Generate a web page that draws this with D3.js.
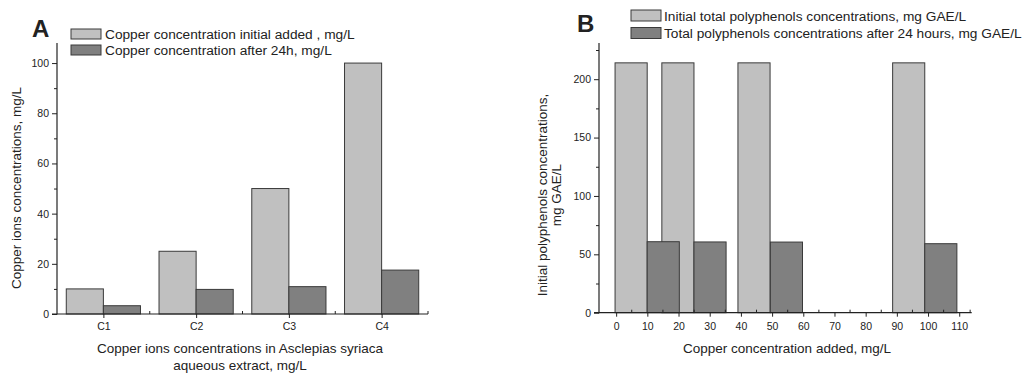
<!DOCTYPE html>
<html>
<head>
<meta charset="utf-8">
<script src="https://cdn.jsdelivr.net/npm/d3@7"></script>
<style>
  html, body { margin: 0; padding: 0; background: #fff; }
  svg { display: block; }
  text { font-family: "Liberation Sans", Arial, sans-serif; fill: #222; }
</style>
</head>
<body>
<svg id="chart" width="1027" height="376"></svg>
<script>
// ---------- Panel A data ----------
const categoriesA = ["C1", "C2", "C3", "C4"];
const initialCu = [10, 25, 50, 100];
const afterCu = [3.3, 9.8, 10.9, 17.5];
const yTicksA = [0, 20, 40, 60, 80, 100];
const yMinorA = [10, 30, 50, 70, 90];
const legendA = ["Copper concentration initial added , mg/L", "Copper concentration after 24h, mg/L"];

// ---------- Panel B data ----------
const initialX = [4.8, 19.8, 44.2, 93.8];
const initialTP = [214, 214, 214, 214];
const afterX = [15.1, 30.1, 54.6, 104.1];
const afterTP = [60.8, 60.6, 60.5, 59.1];
const xTicksB = [0, 10, 20, 30, 40, 50, 60, 70, 80, 90, 100, 110];
const xMinorB = [5, 15, 25, 35, 45, 55, 65, 75, 85, 95, 105, 113.5];
const yTicksB = [0, 50, 100, 150, 200];
const yMinorB = [25, 75, 125, 175, 225];
const legendB = ["Initial total polyphenols concentrations, mg GAE/L", "Total polyphenols concentrations after 24 hours, mg GAE/L"];

const LIGHT = "#c0c0c0", DARK = "#808080", EDGE = "#3a3a3a", AX = "#222";
const svg = d3.select("#chart");
svg.append("rect").attr("width", 1027).attr("height", 376).attr("fill", "#fff");

function styleAxis(g) {
  g.select(".domain").remove();
  g.selectAll("line").attr("stroke", AX).attr("stroke-width", 1);
  g.selectAll("text").attr("font-size", 10.5).attr("fill", AX)
    .attr("font-family", "Liberation Sans, Arial, sans-serif");
}

// ================= Panel A =================
{
  const x = d3.scaleBand().domain(categoriesA).range([57, 428]).paddingInner(0).paddingOuter(0);
  const y = d3.scaleLinear().domain([0, 108]).range([314, 43]);
  const bw = x.bandwidth() * 0.4;
  const g = svg.append("g");

  g.selectAll("rect.init").data(categoriesA).join("rect")
    .attr("x", d => x(d) + x.bandwidth() / 2 - bw)
    .attr("y", (d, i) => y(initialCu[i]))
    .attr("width", bw)
    .attr("height", (d, i) => y(0) - y(initialCu[i]))
    .attr("fill", LIGHT).attr("stroke", EDGE).attr("stroke-width", 1);
  g.selectAll("rect.after").data(categoriesA).join("rect")
    .attr("x", d => x(d) + x.bandwidth() / 2)
    .attr("y", (d, i) => y(afterCu[i]))
    .attr("width", bw)
    .attr("height", (d, i) => y(0) - y(afterCu[i]))
    .attr("fill", DARK).attr("stroke", EDGE).attr("stroke-width", 1);

  // y axis
  const ya = g.append("g").attr("transform", "translate(57,0)")
    .call(d3.axisLeft(y).tickValues(yTicksA).tickSize(5).tickPadding(3));
  styleAxis(ya);
  const ym = g.append("g").attr("transform", "translate(57,0)")
    .call(d3.axisLeft(y).tickValues(yMinorA).tickSize(3).tickFormat(""));
  styleAxis(ym);
  g.append("line").attr("x1", 57).attr("x2", 57).attr("y1", y.range()[1]).attr("y2", y(0) + 0.5)
    .attr("stroke", AX).attr("stroke-width", 1.2);

  // x axis
  const xc = d3.scalePoint().domain(categoriesA).range([x(categoriesA[0]) + x.bandwidth() / 2, x(categoriesA[3]) + x.bandwidth() / 2]);
  const xa = g.append("g").attr("transform", `translate(0,${y(0)})`)
    .call(d3.axisBottom(xc).tickSize(4).tickPadding(5));
  styleAxis(xa);
  const boundaries = categoriesA.map(c => x(c) + x.bandwidth());
  g.selectAll("line.xminor").data(boundaries).join("line")
    .attr("x1", d => d).attr("x2", d => d).attr("y1", y(0)).attr("y2", y(0) - 3)
    .attr("stroke", AX);
  g.append("line").attr("x1", 52).attr("x2", 428).attr("y1", y(0)).attr("y2", y(0))
    .attr("stroke", AX).attr("stroke-width", 1.2);

  // titles
  g.append("text").attr("x", 240).attr("y", 353).attr("text-anchor", "middle").attr("font-size", 13.5)
    .text("Copper ions concentrations in Asclepias syriaca");
  g.append("text").attr("x", 240).attr("y", 370).attr("text-anchor", "middle").attr("font-size", 13.5)
    .text("aqueous extract, mg/L");
  g.append("text").attr("transform", "translate(21,188) rotate(-90)").attr("text-anchor", "middle")
    .attr("font-size", 13.5).text("Copper ions concentrations, mg/L");
  g.append("text").attr("x", 32).attr("y", 37).attr("font-size", 24).attr("font-weight", "bold")
    .attr("fill", "#000").text("A");

  // legend
  const lg = g.append("g");
  [LIGHT, DARK].forEach((c, i) => {
    lg.append("rect").attr("x", 71).attr("y", 29 + i * 16).attr("width", 30).attr("height", 10)
      .attr("fill", c).attr("stroke", EDGE);
    lg.append("text").attr("x", 105).attr("y", 38.5 + i * 16).attr("font-size", 13.7).text(legendA[i]);
  });
}

// ================= Panel B =================
{
  const x = d3.scaleLinear().domain([-5.5, 114]).range([599, 971.7]);
  const y = d3.scaleLinear().domain([0, 231]).range([312.7, 43]);
  const W = 10.3;
  const g = svg.append("g");

  g.selectAll("rect.init").data(initialX).join("rect")
    .attr("x", d => x(d - W / 2))
    .attr("y", (d, i) => y(initialTP[i]))
    .attr("width", x(W) - x(0))
    .attr("height", (d, i) => y(0) - y(initialTP[i]))
    .attr("fill", LIGHT).attr("stroke", EDGE).attr("stroke-width", 1);
  g.selectAll("rect.after").data(afterX).join("rect")
    .attr("x", d => x(d - W / 2))
    .attr("y", (d, i) => y(afterTP[i]))
    .attr("width", x(W) - x(0))
    .attr("height", (d, i) => y(0) - y(afterTP[i]))
    .attr("fill", DARK).attr("stroke", EDGE).attr("stroke-width", 1);

  const ya = g.append("g").attr("transform", "translate(599,0)")
    .call(d3.axisLeft(y).tickValues(yTicksB).tickSize(5).tickPadding(3));
  styleAxis(ya);
  const ym = g.append("g").attr("transform", "translate(599,0)")
    .call(d3.axisLeft(y).tickValues(yMinorB).tickSize(3).tickFormat(""));
  styleAxis(ym);
  g.append("line").attr("x1", 599).attr("x2", 599).attr("y1", y.range()[1]).attr("y2", y(0) + 0.5)
    .attr("stroke", AX).attr("stroke-width", 1.2);

  const xa = g.append("g").attr("transform", `translate(0,${y(0)})`)
    .call(d3.axisBottom(x).tickValues(xTicksB).tickSize(4).tickPadding(6));
  styleAxis(xa);
  g.selectAll("line.xminor").data(xMinorB).join("line")
    .attr("x1", d => x(d)).attr("x2", d => x(d)).attr("y1", y(0)).attr("y2", y(0) - 3)
    .attr("stroke", AX);
  g.append("line").attr("x1", 594).attr("x2", 971.7).attr("y1", y(0)).attr("y2", y(0))
    .attr("stroke", AX).attr("stroke-width", 1.2);

  g.append("text").attr("x", 787).attr("y", 353).attr("text-anchor", "middle").attr("font-size", 13.5)
    .text("Copper concentration added, mg/L");
  const yl = g.append("text").attr("transform", "translate(547,195) rotate(-90)").attr("text-anchor", "middle")
    .attr("font-size", 13.5);
  yl.append("tspan").attr("x", 0).attr("dy", 0).text("Initial polyphenols concentrations,");
  yl.append("tspan").attr("x", 0).attr("dy", 14).text("mg GAE/L");
  g.append("text").attr("x", 577).attr("y", 32).attr("font-size", 24).attr("font-weight", "bold")
    .attr("fill", "#000").text("B");

  const lg = g.append("g");
  [LIGHT, DARK].forEach((c, i) => {
    lg.append("rect").attr("x", 631).attr("y", 10 + i * 17.5).attr("width", 30).attr("height", 11)
      .attr("fill", c).attr("stroke", EDGE);
    lg.append("text").attr("x", 664).attr("y", 20.5 + i * 17.5).attr("font-size", 13.7).text(legendB[i]);
  });
}
</script>
</body>
</html>
